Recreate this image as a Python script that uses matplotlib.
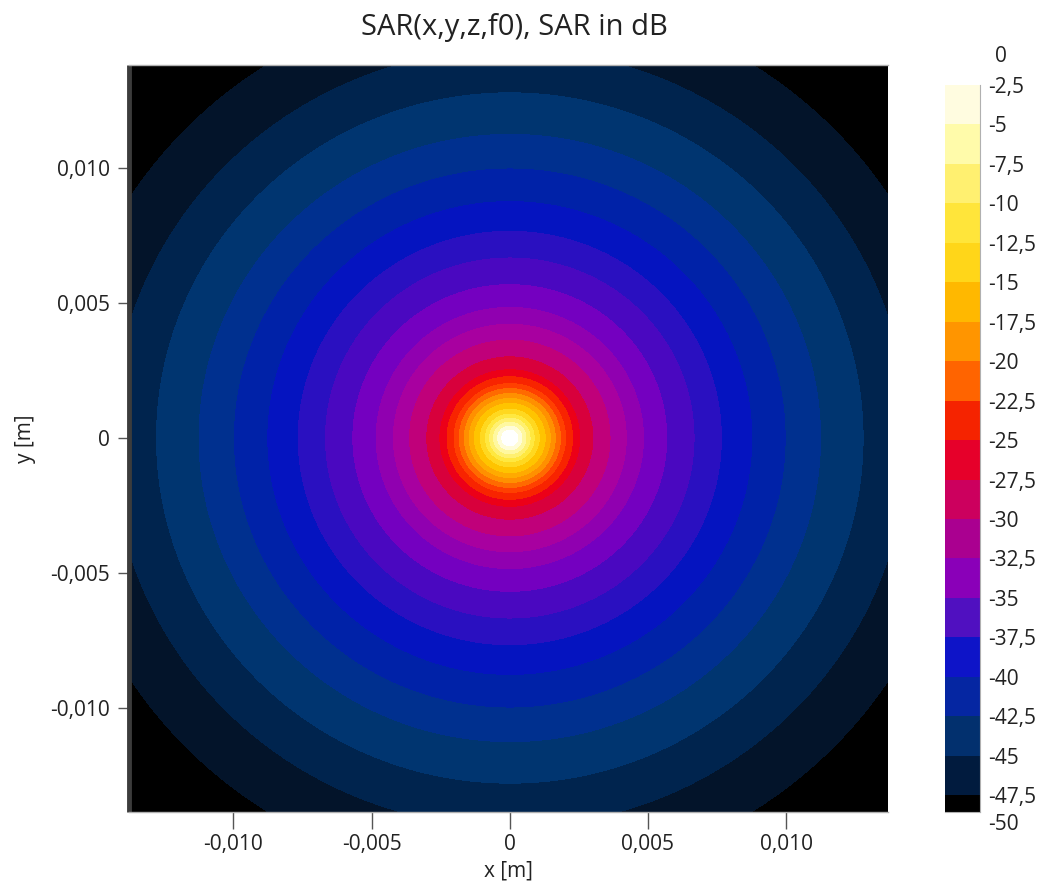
import numpy as np
import matplotlib
matplotlib.use("Agg")
import matplotlib.pyplot as plt
from matplotlib.colors import ListedColormap, BoundaryNorm
from matplotlib.ticker import FuncFormatter

plt.rcParams['font.family'] = ['Open Sans', 'DejaVu Sans']

# contour rings of the field: radius (m) of each ring edge and its SAR (dB),
# read off the picture (the field is close to round about the origin)
ring_radius = [0.0, 0.000293, 0.000440, 0.000586, 0.000733, 0.000879, 0.001062,
               0.001282, 0.001465, 0.001648, 0.001832, 0.002015, 0.002271,
               0.002527, 0.003004, 0.003626, 0.004212, 0.004835, 0.005678,
               0.006667, 0.007656, 0.008755, 0.009963, 0.011245, 0.012784,
               0.014396, 0.016374, 0.021062]
ring_db = [0.0, -2.5, -4.4, -6.3, -8.0, -9.8, -11.5, -13.0, -14.6, -16.3,
           -18.5, -20.8, -23.0, -25.2, -27.8, -30.3, -32.4, -34.0, -35.5,
           -37.0, -38.4, -40.0, -41.6, -43.0, -44.7, -46.3, -47.5, -50.0]
# fill colour of each ring, outermost (lowest dB) first
ring_colors = ['#000000', '#03142a', '#00244e', '#003570', '#00308f', '#0022a8',
               '#0514c0', '#2a10c0', '#4a08c0', '#7400c0', '#9000b0', '#a800a0',
               '#c0007a', '#d8003c', '#ec0018', '#f82400', '#ff4000', '#ff6a00',
               '#ff9000', '#ffaa00', '#ffc400', '#ffd820', '#ffe840', '#fff070',
               '#fff8a0', '#fffcd8', '#ffffff']

# colour bar: bands of 2.5 dB, lowest first
band_edges = [-50, -47.5, -45, -42.5, -40, -37.5, -35, -32.5, -30, -27.5, -25,
              -22.5, -20, -17.5, -15, -12.5, -10, -7.5, -5]
band_colors = ['#000000', '#011b3e', '#02306e', '#0526a2', '#0e14c8', '#5010c0',
               '#8a00b8', '#aa0090', '#cc005e', '#e6002a', '#f52300', '#ff6400',
               '#ff9500', '#ffb800', '#ffd619', '#ffe53a', '#fff070', '#fffbaa',
               '#fffce0']

cbar_ticks = [0, -2.5, -5, -7.5, -10, -12.5, -15, -17.5, -20, -22.5, -25,
              -27.5, -30, -32.5, -35, -37.5, -40, -42.5, -45, -47.5, -50]
xticks = [-0.010, -0.005, 0, 0.005, 0.010]
yticks = [-0.010, -0.005, 0, 0.005, 0.010]


def comma(v, pos=None):
    if abs(v) < 1e-12:
        return '0'
    return ('%.3f' % v).replace('.', ',')


def comma_db(v):
    return ('%g' % v).replace('.', ',')


fig = plt.figure(figsize=(10.43, 8.90), dpi=100)
W, H = 1043, 890
ax = fig.add_axes([129 / W, (H - 812) / H, 759 / W, 747 / H])

xlim = (-0.013780, 0.013686)
ylim = (-0.013852, 0.013815)
xs = np.linspace(xlim[0], xlim[1], 900)
ys = np.linspace(ylim[0], ylim[1], 900)
X, Y = np.meshgrid(xs, ys)
R = np.hypot(X, Y)
Z = np.interp(R, ring_radius, ring_db)

levels = sorted(ring_db)[:-1] + [0.5]
cmap = ListedColormap(ring_colors)
norm = BoundaryNorm(levels, cmap.N)
ax.contourf(X, Y, Z, levels=levels, cmap=cmap, norm=norm)

ax.set_xlim(xlim)
ax.set_ylim(ylim)
ax.set_xticks(xticks)
ax.set_yticks(yticks)
ax.xaxis.set_major_formatter(FuncFormatter(comma))
ax.yaxis.set_major_formatter(FuncFormatter(comma))
ax.tick_params(width=1, color='#555555', labelsize=15, labelcolor='#222222')
ax.tick_params(axis='x', length=12, pad=4)
ax.tick_params(axis='y', length=8, pad=6)
ax.spines['left'].set_color('#3c3c3c')
ax.spines['left'].set_linewidth(3.5)
ax.spines['left'].set_capstyle('butt')
ax.spines['right'].set_visible(False)
for s in ['top', 'bottom']:
    ax.spines[s].set_color('#b0b0b0')
    ax.spines[s].set_linewidth(1)
ax.set_xlabel('x [m]', fontsize=15, color='#222222', labelpad=4)
ax.set_ylabel('y [m]', fontsize=15, color='#222222', labelpad=10)
fig.text(514 / W, 1 - 27 / H, 'SAR(x,y,z,f0), SAR in dB', ha='center',
         va='center', fontsize=21, color='#222222')

# colour bar
cax = fig.add_axes([945 / W, (H - 812) / H, 35 / W, 727 / H])
for lo, col in zip(band_edges, band_colors):
    cax.bar(0.5, 2.5, bottom=lo, width=1, color=col, linewidth=0)
cax.set_xlim(0, 1)
cax.set_ylim(-48.57, -2.5)
cax.set_xticks([])
inner = [t for t in cbar_ticks if -48 < t < -2]
cax.set_yticks(inner)
cax.set_yticklabels([comma_db(t) for t in inner])
cax.yaxis.tick_right()
cax.tick_params(axis='y', length=0, pad=6, labelsize=15, labelcolor='#222222')
for s in ['top', 'left']:
    cax.spines[s].set_visible(False)
for s in ['right', 'bottom']:
    cax.spines[s].set_color('#b0b0b0')
fig.text(995 / W, 1 - 57 / H, comma_db(cbar_ticks[0]), ha='left', va='center',
         fontsize=15, color='#222222')
fig.text(988 / W, 1 - 825 / H, comma_db(cbar_ticks[-1]), ha='left', va='center',
         fontsize=15, color='#222222')

fig.savefig('out.png', dpi=100)
